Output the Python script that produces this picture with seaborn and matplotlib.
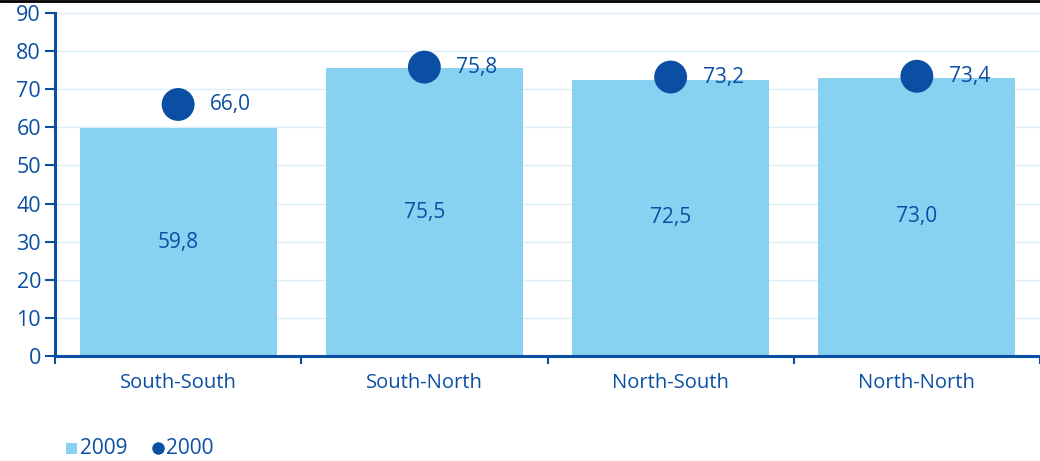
import matplotlib
matplotlib.use("Agg")
import matplotlib.pyplot as plt
import seaborn as sns
import pandas as pd
from matplotlib.lines import Line2D
from matplotlib.patches import Rectangle

categories = ["South-South", "South-North", "North-South", "North-North"]
values_2009 = [59.8, 75.5, 72.5, 73.0]
values_2000 = [66.0, 75.8, 73.2, 73.4]
yticks = [0, 10, 20, 30, 40, 50, 60, 70, 80, 90]

BAR = "#89D1F1"
DARK = "#0A4FA3"
GRID = "#DCEFF8"

sns.set_theme(style="white")
plt.rcParams["font.family"] = ["Open Sans", "DejaVu Sans"]

df = pd.DataFrame({"cat": categories, "y2009": values_2009, "y2000": values_2000})

fig = plt.figure(figsize=(10.4, 4.61), dpi=100)
ax = fig.add_axes([55 / 1040, 1 - 356 / 461, 1 - 55 / 1040, (356 - 13) / 461])

sns.barplot(data=df, x="cat", y="y2009", color=BAR, width=0.8, ax=ax, zorder=2,
            saturation=1, edgecolor="none")
sns.scatterplot(data=df, x="cat", y="y2000", color=DARK, s=560, ax=ax, zorder=3,
                edgecolor="none")

ax.set_ylim(0, 90)
ax.set_xlim(-0.5, len(categories) - 0.5)
ax.set_yticks(yticks)
ax.set_yticklabels([str(t) for t in yticks])
ax.set_xlabel("")
ax.set_ylabel("")
ax.yaxis.grid(True, color=GRID, linewidth=1, zorder=0)
ax.set_axisbelow(True)

for s in ["top", "right"]:
    ax.spines[s].set_visible(False)
for s in ["left", "bottom"]:
    ax.spines[s].set_color(DARK)
    ax.spines[s].set_linewidth(2.2)

ax.tick_params(axis="y", colors=DARK, labelsize=15.5, length=7, width=1.5, direction="out",
               left=True, pad=3)
ax.tick_params(axis="x", which="major", colors=DARK, labelsize=14.5, length=0, pad=12)
# boundary ticks between categories
ax.set_xticks([i - 0.5 for i in range(len(categories) + 1)], minor=True)
ax.tick_params(axis="x", which="minor", colors=DARK, length=6, width=1.5, direction="out",
               bottom=True)

for i, (v9, v0) in enumerate(zip(values_2009, values_2000)):
    ax.text(i, v9 / 2, f"{v9:.1f}".replace(".", ","), ha="center", va="center",
            color=DARK, fontsize=15, zorder=4)
    ax.annotate(f"{v0:.1f}".replace(".", ","), xy=(i, v0), xytext=(32, 0),
                textcoords="offset pixels", ha="left", va="center",
                color=DARK, fontsize=15, zorder=4)

# legend
fig.patches.append(Rectangle((66 / 1040, 1 - 454 / 461), 11 / 1040, 11 / 461,
                             transform=fig.transFigure, facecolor=BAR, edgecolor="none"))
fig.text(80 / 1040, 1 - 448 / 461, "2009", color=DARK, fontsize=15, va="center", ha="left")
fig.add_artist(Line2D([158 / 1040], [1 - 448 / 461], marker="o", markersize=8,
                      color=DARK, linestyle="none", transform=fig.transFigure))
fig.text(166 / 1040, 1 - 448 / 461, "2000", color=DARK, fontsize=15, va="center", ha="left")

# top border line
fig.add_artist(Line2D([0, 1], [1 - 1 / 461, 1 - 1 / 461], color="black", linewidth=2,
                      transform=fig.transFigure))

fig.savefig("out.png", dpi=100)
